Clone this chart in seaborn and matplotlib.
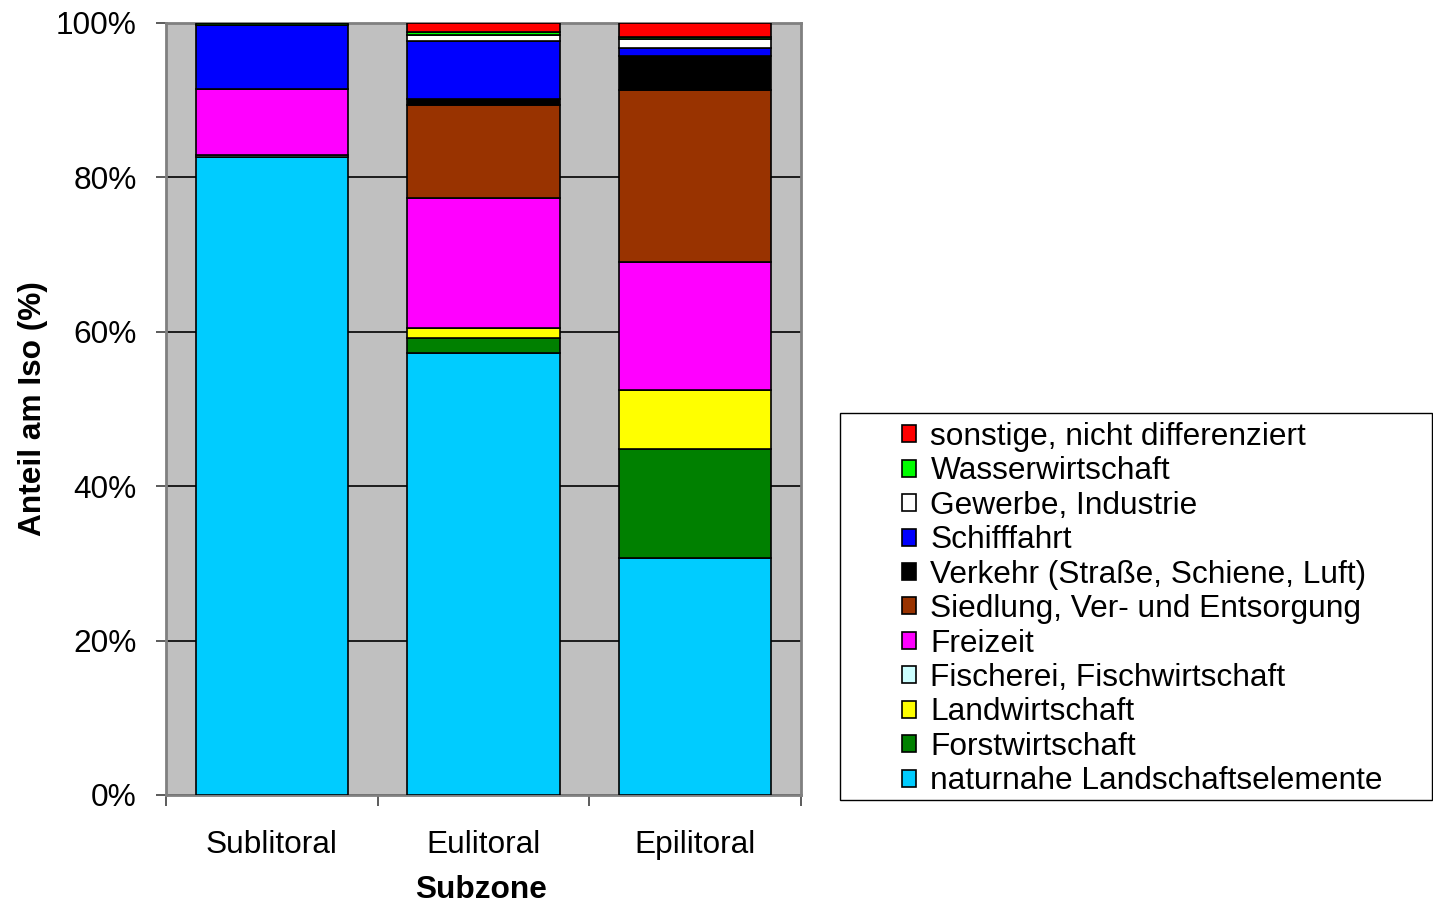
import numpy as np
import pandas as pd
import seaborn as sns
import matplotlib.pyplot as plt
from matplotlib.patches import Rectangle

# Subzones and share (%) of each use category
zones = ['Sublitoral', 'Eulitoral', 'Epilitoral']
categories = [
    'naturnahe Landschaftselemente',
    'Forstwirtschaft',
    'Landwirtschaft',
    'Fischerei, Fischwirtschaft',
    'Freizeit',
    'Siedlung, Ver- und Entsorgung',
    'Verkehr (Straße, Schiene, Luft)',
    'Schifffahrt',
    'Gewerbe, Industrie',
    'Wasserwirtschaft',
    'sonstige, nicht differenziert',
]
naturnahe = [82.6, 57.3, 30.7]
forst = [0.0, 1.9, 14.1]
landwirt = [0.0, 1.3, 7.7]
fischerei = [0.3, 0.0, 0.0]
freizeit = [8.5, 16.8, 16.5]
siedlung = [0.0, 12.1, 22.3]
verkehr = [0.0, 0.8, 4.4]
schifffahrt = [8.3, 7.5, 1.1]
gewerbe = [0.0, 0.8, 1.1]
wasser = [0.3, 0.3, 0.3]
sonstige = [0.0, 1.2, 1.8]
series = [naturnahe, forst, landwirt, fischerei, freizeit, siedlung,
          verkehr, schifffahrt, gewerbe, wasser, sonstige]
colors = ['#00CCFF', '#008000', '#FFFF00', '#CCFFFF', '#FF00FF', '#993300',
          '#000000', '#0000FF', '#FFFFFF', '#00FF00', '#FF0000']

sns.set_style('white')
plt.rcParams['font.family'] = ['Liberation Sans', 'DejaVu Sans']
FS = 22.8

fig = plt.figure(figsize=(14.33, 9.10), dpi=100)
ax = fig.add_axes([0.1158, 0.1264, 0.4431, 0.8484])
ax.set_facecolor('#C0C0C0')

bottom = np.zeros(len(zones))
for cat, vals, col in zip(categories, series, colors):
    df = pd.DataFrame({'zone': zones, 'value': vals})
    sns.barplot(data=df, x='zone', y='value', bottom=bottom, color=col,
                width=0.72, edgecolor='black', linewidth=1.2, ax=ax,
                label=cat, saturation=1, zorder=3)
    bottom = bottom + np.array(vals)

handles, labels = ax.get_legend_handles_labels()
if ax.get_legend() is not None:
    ax.get_legend().remove()

ax.set_ylim(0, 100)
ax.set_xlim(-0.5, 2.5)
ax.set_yticks([0, 20, 40, 60, 80, 100])
ax.set_yticklabels([f'{v}%' for v in [0, 20, 40, 60, 80, 100]],
                   fontsize=FS, color='black')
ax.yaxis.grid(True, color='black', linewidth=1.2, zorder=1)
ax.set_axisbelow(True)

ax.set_xticks([-0.5, 0.5, 1.5, 2.5])
ax.set_xticklabels([])
ax.set_xticks([0, 1, 2], minor=True)
ax.set_xticklabels(zones, minor=True, fontsize=FS, color='black')
ax.tick_params(axis='x', which='minor', length=0, pad=25)
ax.tick_params(axis='x', which='major', length=8, width=1.2, direction='out',
               bottom=True, color='#404040')
ax.tick_params(axis='y', length=7, width=1.2, direction='out', left=True,
               color='#404040', pad=14)

for side in ax.spines:
    ax.spines[side].set_color('#808080')
    ax.spines[side].set_linewidth(2)

ax.set_xlabel('Subzone', fontsize=FS, fontweight='bold', color='black')
ax.set_ylabel('Anteil am Iso (%)', fontsize=FS, fontweight='bold', color='black')
ax.xaxis.set_label_coords(0.497, -0.104)
ax.yaxis.set_label_coords(-0.186, 0.5)

# legend frame spanning to the right edge, as in the original
fig.patches.append(Rectangle((840 / 1433, 1 - 800 / 910), (1433 - 841) / 1433,
                             387 / 910, transform=fig.transFigure,
                             facecolor='white', edgecolor='black',
                             linewidth=1, zorder=0))
leg = fig.legend(handles[::-1], labels[::-1],
                 bbox_to_anchor=(902 / 1433, 1 - 422 / 910), loc='upper left',
                 ncol=1, fontsize=FS, frameon=False,
                 handlelength=0.45, handleheight=0.45, handletextpad=0.45,
                 labelspacing=0.14, borderpad=0, borderaxespad=0)
for t in leg.get_texts():
    t.set_color('black')

fig.savefig('out.png', dpi=100)
